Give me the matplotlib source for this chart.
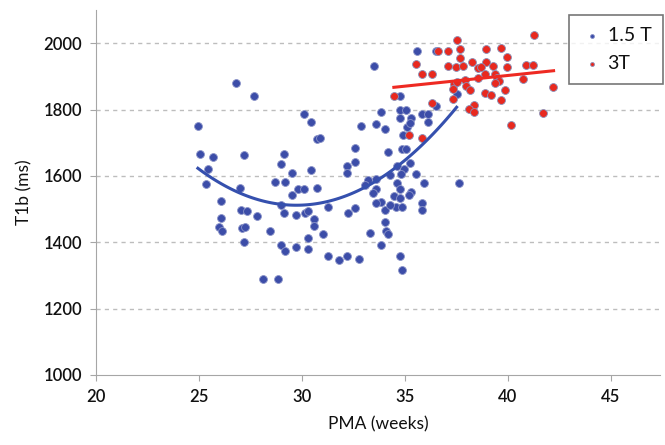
import numpy as np
import matplotlib
matplotlib.use("Agg")
import matplotlib.pyplot as plt

plt.rcParams['font.family'] = ['Lato', 'DejaVu Sans']

# 1.5 T scans: PMA (weeks), T1b (ms)
pma_15 = [24.97, 25.06, 25.68, 25.45, 25.35, 26.78, 27.68, 27.2, 29.11, 29.01,
          27.0, 28.72, 29.17, 26.07, 27.04, 27.33, 27.8, 26.07, 29.0, 29.13,
          25.97, 26.1, 27.07, 27.23, 28.43, 27.2, 29.01, 29.17, 28.12, 28.82,
          30.11, 30.44, 30.73, 30.89, 33.87, 32.86, 33.61, 34.03, 32.57, 32.57,
          32.17, 32.17, 30.44, 29.5, 29.82, 30.11, 30.73, 29.5, 33.19, 33.62,
          33.09, 33.62, 33.46, 33.87, 33.62, 31.25, 32.25, 32.57, 34.03, 29.74,
          30.15, 30.28, 30.6, 30.6, 31.03, 30.28, 29.74, 30.28, 31.25, 31.8,
          32.17, 32.8, 33.32, 33.87, 34.03, 33.5, 35.61, 36.5, 37.54, 34.79,
          36.53, 34.79, 35.08, 34.79, 35.31, 35.83, 36.15, 36.15, 35.11, 35.24,
          34.92, 34.88, 35.08, 34.19, 35.24, 34.63, 34.95, 34.82, 34.27, 35.53,
          34.63, 35.92, 37.63, 34.79, 34.5, 34.79, 34.59, 34.88, 35.31, 35.21,
          35.83, 35.83, 34.3, 34.11, 34.19, 34.79, 34.88]
t1b_15 = [1750, 1665, 1656, 1620, 1575, 1879, 1842, 1663, 1665, 1635,
          1565, 1582, 1581, 1524, 1497, 1495, 1479, 1472, 1512, 1489,
          1445, 1435, 1442, 1447, 1435, 1400, 1392, 1373, 1288, 1288,
          1786, 1761, 1710, 1713, 1793, 1751, 1756, 1740, 1683, 1641,
          1630, 1609, 1617, 1610, 1562, 1562, 1565, 1542, 1589, 1592,
          1572, 1562, 1547, 1522, 1517, 1507, 1489, 1504, 1497, 1482,
          1489, 1495, 1469, 1450, 1425, 1412, 1386, 1379, 1359, 1348,
          1359, 1351, 1429, 1392, 1462, 1932, 1977, 1977, 1846, 1840,
          1810, 1800, 1800, 1776, 1776, 1788, 1788, 1763, 1746, 1758,
          1723, 1681, 1681, 1673, 1640, 1630, 1620, 1605, 1604, 1605,
          1580, 1580, 1580, 1562, 1540, 1532, 1505, 1505, 1552, 1542,
          1517, 1497, 1511, 1435, 1425, 1358, 1316]

# 3 T scans
pma_3 = [34.47, 35.53, 35.83, 36.31, 36.63, 37.12, 37.54, 37.67, 37.67, 37.5,
         37.83, 37.12, 37.38, 37.35, 36.31, 35.21, 35.83, 41.27, 38.97, 39.66,
         39.98, 38.27, 38.97, 38.56, 38.69, 39.27, 39.98, 40.88, 41.21, 38.88,
         39.37, 37.94, 38.56, 39.47, 39.56, 39.37, 40.73, 37.99, 38.16, 38.88,
         39.17, 39.88, 39.66, 42.18, 38.36, 38.11, 38.36, 41.71, 40.17, 37.54,
         37.35]
t1b_3 = [1840, 1936, 1908, 1906, 1977, 1976, 2009, 1982, 1956, 1929,
         1932, 1932, 1877, 1833, 1820, 1722, 1713, 2026, 1982, 1986,
         1959, 1944, 1944, 1926, 1928, 1932, 1928, 1934, 1934, 1908,
         1908, 1890, 1894, 1895, 1886, 1879, 1892, 1870, 1858, 1849,
         1845, 1859, 1829, 1867, 1813, 1803, 1793, 1789, 1753, 1883,
         1862]

# trend lines
fit_15_range = (24.95, 37.52)
fit_15_coef = [4.87, 2.61, 1512]   # quadratic in (PMA - 30)
fit_3_range = (34.47, 42.23)
fit_3_ends = (1867, 1917)

blue = '#3C4DA8'
red = '#E8291F'
txt = '#111111'

fig = plt.figure(figsize=(6.65, 4.45), dpi=100)
ax = fig.add_axes([96 / 665, 1 - 375 / 445, 564 / 665, 365 / 445])

ax.scatter(pma_15, t1b_15, s=32, color=blue, edgecolors='#8A93C8',
           linewidths=0.6, zorder=3, label='1.5 T')
ax.scatter(pma_3, t1b_3, s=32, color=red, edgecolors='#8A8FB8',
           linewidths=0.6, zorder=3, label='3T')

xs = np.linspace(*fit_15_range, 100)
ax.plot(xs, np.polyval(fit_15_coef, xs - 30), color='#3550AE', lw=2.2, zorder=4)
ax.plot(fit_3_range, fit_3_ends, color='#EE2A22', lw=2.2, zorder=4)

ax.set_xlim(20, 47.4)
ax.set_ylim(1000, 2100)
ax.set_xticks([20, 25, 30, 35, 40, 45])
ax.set_yticks([1000, 1200, 1400, 1600, 1800, 2000])
for yv in [1200, 1400, 1600, 1800, 2000]:
    ax.axhline(yv, color='#BDBDBD', lw=1, ls=(0, (3, 3)), zorder=1)

for s in ['top', 'right']:
    ax.spines[s].set_visible(False)
for s in ['left', 'bottom']:
    ax.spines[s].set_color('#A6A6A6')
ax.tick_params(colors='#A6A6A6', labelcolor=txt, labelsize=12,
               length=4, direction='out', pad=6)
for lab in ax.get_xticklabels() + ax.get_yticklabels():
    lab.set_fontweight('semibold')

ax.set_xlabel('PMA (weeks)', fontsize=12.5, color=txt, labelpad=8)
ax.set_ylabel('T1b (ms)', fontsize=12.5, color=txt, labelpad=8)

leg = ax.legend(loc='upper right', bbox_to_anchor=(663 / 665, 1 - 15 / 445),
                bbox_transform=fig.transFigure, borderaxespad=0, fontsize=14,
                markerscale=0.5, handletextpad=0.2, handlelength=1.2,
                labelspacing=0.6, borderpad=0.6, fancybox=False, frameon=True)
leg.get_frame().set_edgecolor('#555555')
leg.get_frame().set_linewidth(1.2)
for t in leg.get_texts():
    t.set_color(txt)

fig.savefig('out.png', dpi=100)
